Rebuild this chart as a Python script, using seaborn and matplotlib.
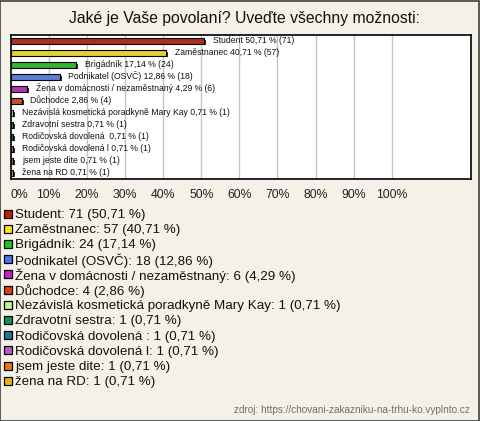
import matplotlib
matplotlib.use('Agg')
import matplotlib.pyplot as plt
import matplotlib.transforms as mtransforms
from matplotlib.patches import Rectangle
import pandas as pd
import seaborn as sns

categories = ['Student', 'Zaměstnanec', 'Brigádník', 'Podnikatel (OSVČ)',
              'Žena v domácnosti / nezaměstnaný', 'Důchodce',
              'Nezávislá kosmetická poradkyně Mary Kay', 'Zdravotní sestra',
              'Rodičovská dovolená ', 'Rodičovská dovolená l', 'jsem jeste dite',
              'žena na RD']
counts = [71, 57, 24, 18, 6, 4, 1, 1, 1, 1, 1, 1]
percents = [50.71, 40.71, 17.14, 12.86, 4.29, 2.86, 0.71, 0.71, 0.71, 0.71, 0.71, 0.71]
colors = ['#C41A0C', '#FFE51E', '#1EC81E', '#4B74E6', '#C81EC8', '#E0400F',
          '#C8F58C', '#119456', '#1C7896', '#BE5ABE', '#E67814', '#EBB414']
x_ticks = [0, 10, 20, 30, 40, 50, 60, 70, 80, 90, 100]

BG = '#F3F1E8'
W, H = 480, 421


def fmt(v):
    return f'{v:.2f}'.replace('.', ',')


def plot_chart():
    sns.set_style(style='white')
    plt.rcParams['font.family'] = ['Liberation Sans', 'DejaVu Sans']

    data = pd.DataFrame({'label': categories, 'pct': percents, 'count': counts})

    fig = plt.figure(figsize=(W / 100, H / 100), dpi=100, facecolor=BG)
    ax = fig.add_axes([0.0223, 0.5748, 0.9583, 0.3421])
    ax.set_facecolor('white')

    # shadow bars, shifted right/down
    sns.barplot(data=data, x='pct', y='label', hue='label', palette=['#303030'] * len(categories),
                orient='h', width=0.47, legend=False, ax=ax, linewidth=0)
    shift = mtransforms.ScaledTranslation(0.02, -0.015, fig.dpi_scale_trans)
    for p in ax.patches:
        p.set_transform(ax.transData + shift)

    sns.barplot(data=data, x='pct', y='label', hue='label', palette=colors,
                orient='h', width=0.47, legend=False, ax=ax,
                edgecolor='black', linewidth=0.8)

    for i, (lab, v, c) in enumerate(zip(categories, percents, counts)):
        ax.text(v + 2.3, i - 0.08, f'{lab} {fmt(v)} % ({c})', fontsize=6.2,
                va='center', ha='left', color='#111111')

    ax.set_xlim(0, 120.7)
    ax.set_ylim(len(categories) - 0.5, -0.5)
    ax.set_xticks(x_ticks)
    ax.set_xticklabels([f'{t}%' for t in x_ticks], fontsize=8.8, color='#222222')
    ax.get_xticklabels()[0].set_horizontalalignment('left')
    ax.tick_params(axis='x', length=0, pad=7.5)
    ax.set_yticks([])
    ax.set_xlabel('')
    ax.set_ylabel('')
    for t in x_ticks[1:]:
        ax.axvline(t, color='#C4C4C4', linewidth=1, zorder=0)
    for s in ax.spines.values():
        s.set_color('black')
        s.set_linewidth(1.2)
        s.set_visible(True)

    fig.text(0.51, 1 - 18 / H, 'Jaké je Vaše povolaní? Uveďte všechny možnosti:',
             ha='center', va='center', fontsize=11.3, color='#111111')

    # legend rows
    for i, (lab, c, v, col) in enumerate(zip(categories, counts, percents, colors)):
        yc = 213.5 + 15.2 * i
        fig.patches.append(Rectangle((4 / W, 1 - (yc + 4) / H), 8 / W, 8 / H,
                                     transform=fig.transFigure, facecolor=col,
                                     edgecolor='black', linewidth=0.9))
        fig.text(15 / W, 1 - yc / H, f'{lab}: {c} ({fmt(v)} %)', ha='left',
                 va='center_baseline', fontsize=9.6, color='#111111')

    fig.text(470 / W, 1 - 410 / H, 'zdroj: https://chovani-zakazniku-na-trhu-ko.vyplnto.cz',
             ha='right', va='center', fontsize=7.2, color='#6E6E6E')

    fig.patches.append(Rectangle((0.001, 0.001), 0.997, 0.997, transform=fig.transFigure,
                                 fill=False, edgecolor='#404040', linewidth=1.2))

    fig.savefig('out.png', dpi=100, facecolor=BG)
    plt.close(fig)


if __name__ == '__main__':
    plot_chart()
